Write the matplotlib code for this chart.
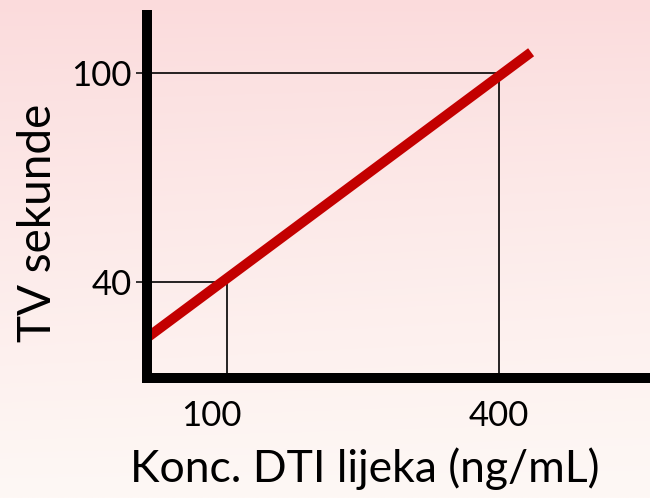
import numpy as np
import matplotlib
matplotlib.use("Agg")
import matplotlib.pyplot as plt
import matplotlib.transforms as mtransforms

plt.rcParams['font.family'] = ['Lato', 'DejaVu Sans']

# data
line_x = [12, 435]          # drug concentration (ng/mL)
line_y = [24, 106]          # TV seconds
guide_x = [100, 400]
guide_y = [40, 100]
x_ticks = [100, 400]
y_ticks = [40, 100]
x_label = "Konc. DTI lijeka (ng/mL)"
y_label = "TV sekunde"

xlim = (11.8, 566)
ylim = (12.4, 116.7)

fig = plt.figure(figsize=(6.5, 4.98), dpi=100)

# soft pink slide background
bg = fig.add_axes([0, 0, 1, 1], zorder=-1)
yy, xx = np.mgrid[0:1:200j, 0:1:260j]
top = np.array([251, 219, 220]) / 255
bottom = np.array([254, 248, 245]) / 255
w = (yy ** 0.9)[..., None]
grad = top * (1 - w) + bottom * w
k = 0.3 * (xx * yy)[..., None]
grad = grad * (1 - k) + k * bottom
bg.imshow(grad, aspect='auto', extent=(0, 1, 0, 1))
bg.axis('off')

ax = fig.add_axes([147 / 650, 120 / 498, 503 / 650, 363 / 498])
ax.set_facecolor('none')
ax.set_xlim(*xlim)
ax.set_ylim(*ylim)

# guide lines
for gx, gy in zip(guide_x, guide_y):
    ax.plot([xlim[0], gx], [gy, gy], color='black', lw=1.2, zorder=2)
    ax.plot([gx, gx], [ylim[0], gy], color='black', lw=1.2, zorder=2)

ax.plot(line_x, line_y, color='#c30000', lw=7.2, solid_capstyle='butt', zorder=3)

for side in ['top', 'right']:
    ax.spines[side].set_visible(False)
for side in ['left', 'bottom']:
    ax.spines[side].set_linewidth(7.2)
    ax.spines[side].set_capstyle('projecting')
    ax.spines[side].set_zorder(4)

ax.set_xticks(x_ticks)
ax.set_xticklabels([str(v) for v in x_ticks], fontsize=25)
ax.set_yticks(y_ticks)
ax.set_yticklabels([str(v) for v in y_ticks], fontsize=25)
ax.tick_params(axis='x', length=0, pad=16)
ax.tick_params(axis='y', length=8, width=1.1, pad=3)

# the "100" label sits a little left of its tick on the slide
lab = ax.get_xticklabels()[0]
lab.set_transform(lab.get_transform() + mtransforms.ScaledTranslation(-0.16, 0, fig.dpi_scale_trans))

ax.set_xlabel(x_label, fontsize=32)
ax.xaxis.set_label_coords(0.433, -0.19)
ax.set_ylabel(y_label, fontsize=33)
ax.yaxis.set_label_coords(-0.175, 0.427)

fig.savefig('out.png', dpi=100)
